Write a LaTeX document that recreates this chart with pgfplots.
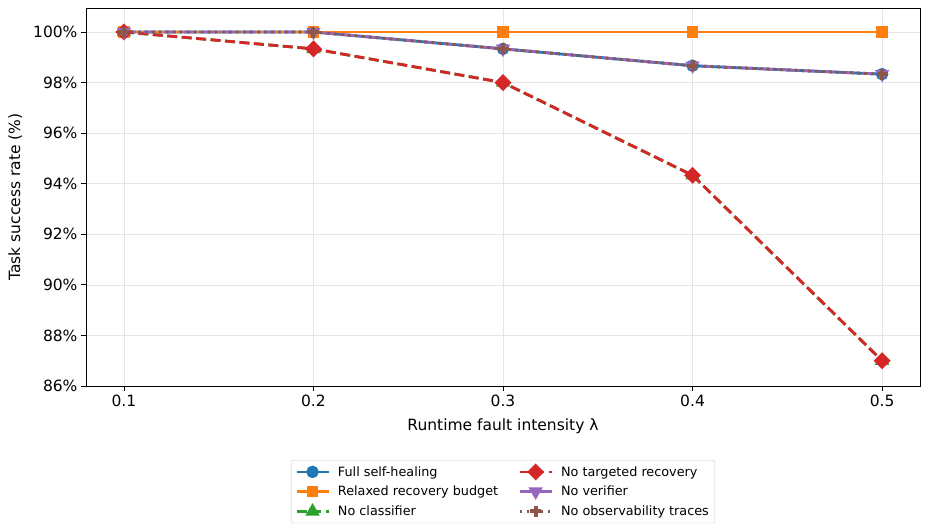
\documentclass[border=0pt]{standalone}
\usepackage{pgfplots}
\pgfplotsset{compat=1.18}
\usepackage{fontspec}
\setmainfont{DejaVu Sans}
\definecolor{c1}{HTML}{1F77B4}
\definecolor{c2}{HTML}{FF7F0E}
\definecolor{c3}{HTML}{2CA02C}
\definecolor{c4}{HTML}{D62728}
\definecolor{c5}{HTML}{9467BD}
\definecolor{c6}{HTML}{8C564B}
\begin{document}
\begin{tikzpicture}[x=1pt,y=1pt]
\useasboundingbox (-86,-143) rectangle (842,386);
\begin{axis}[
  at={(0,0)}, anchor=south west, scale only axis,
  width=834pt, height=378pt,
  xmin=0.08, xmax=0.52, ymin=86, ymax=100.95,
  xtick={0.1,0.2,0.3,0.4,0.5},
  xticklabels={0.1,0.2,0.3,0.4,0.5},
  ytick={86,88,90,92,94,96,98,100},
  yticklabels={86\%,88\%,90\%,92\%,94\%,96\%,98\%,100\%},
  tick align=outside, tick pos=left,
  major tick length=5pt,
  every tick/.style={black, line width=0.8pt},
  axis line style={line width=0.9pt},
  grid=major, grid style={gray!20, line width=0.6pt},
  ticklabel style={font=\fontsize{15.5}{18}\selectfont},
  xlabel={Runtime fault intensity λ},
  ylabel={Task success rate (\%)},
  label style={font=\fontsize{15.5}{18}\selectfont},
  xlabel style={yshift=-6pt},
  ylabel style={yshift=4pt},
  legend style={at={(0.5,-0.196)}, anchor=north, legend columns=3,
    font=\fontsize{12.8}{15}\selectfont, draw=gray!40, rounded corners=2pt,
    row sep=4.5pt, column sep=6pt, inner sep=4pt,
    /tikz/every even column/.append style={column sep=18pt}},
  legend cell align=left,
  transpose legend,
  legend image code/.code={\draw[mark repeat=2,mark phase=2,#1] plot coordinates {(0pt,0pt)(16pt,0pt)(32pt,0pt)};},
]
\addplot[c1, line width=2.8pt, mark=*, mark size=4.8pt] coordinates {(0.1,100) (0.2,100) (0.3,99.333) (0.4,98.667) (0.5,98.333)};
\addlegendentry{Full self-healing}
\addplot[c2, line width=2.8pt, mark=square*, mark size=4.4pt] coordinates {(0.1,100) (0.2,100) (0.3,100) (0.4,100) (0.5,100)};
\addlegendentry{Relaxed recovery budget}
\addplot[c3, line width=2.8pt, dash pattern=on 10pt off 4.5pt, mark=triangle*, mark size=5.5pt, mark options={solid}] coordinates {(0.1,100) (0.2,99.333) (0.3,98) (0.4,94.333) (0.5,87)};
\addlegendentry{No classifier}
\addplot[c4, line width=2.8pt, dash pattern=on 10pt off 4.5pt, mark=square*, mark size=4.6pt, mark options={solid, rotate=45}] coordinates {(0.1,100) (0.2,99.333) (0.3,98) (0.4,94.333) (0.5,87)};
\addlegendentry{No targeted recovery}
\addplot[c5, line width=2.8pt, dash pattern=on 12pt off 3pt on 2pt off 3pt, mark=triangle*, mark size=5.5pt, mark options={solid, rotate=180}] coordinates {(0.1,100) (0.2,100) (0.3,99.333) (0.4,98.667) (0.5,98.333)};
\addlegendentry{No verifier}
\addplot[c6, line width=2.8pt, dash pattern=on 2.8pt off 4.2pt, mark=+, mark size=5.5pt, mark options={solid, line width=4pt}] coordinates {(0.1,100) (0.2,100) (0.3,99.333) (0.4,98.667) (0.5,98.333)};
\addlegendentry{No observability traces}
\end{axis}
\end{tikzpicture}
\end{document}
